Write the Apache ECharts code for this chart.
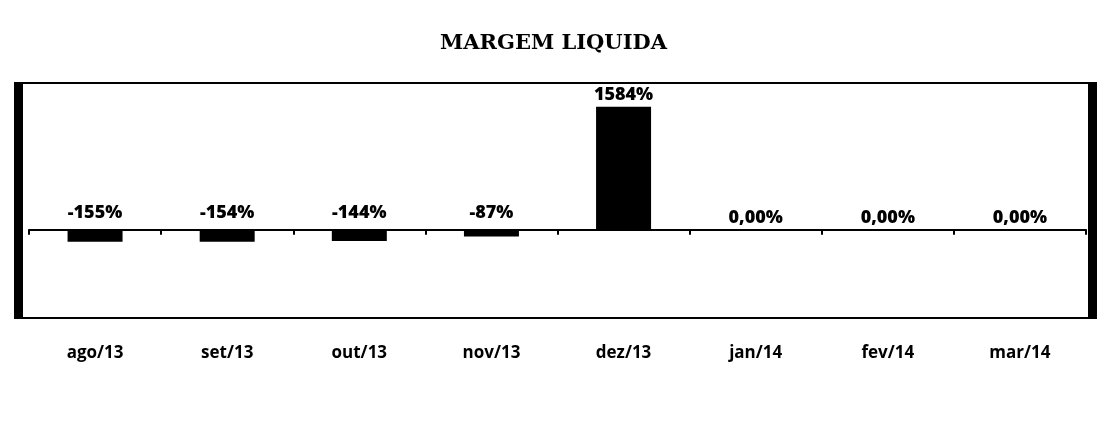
<!DOCTYPE html>
<html>
<head>
<meta charset="utf-8">
<script src="https://cdn.jsdelivr.net/npm/echarts@6/dist/echarts.min.js"></script>
<style>
  html, body { margin: 0; padding: 0; background: #fff; }
  #chart { width: 1107px; height: 447px; }
</style>
</head>
<body>
<div id="chart"></div>
<script>
const months = ['ago/13', 'set/13', 'out/13', 'nov/13', 'dez/13', 'jan/14', 'fev/14', 'mar/14']
const margem = [-155, -154, -144, -87, 1584, 0, 0, 0]
const labels = ['-155%', '-154%', '-144%', '-87%', '1584%', '0,00%', '0,00%', '0,00%']

const chart = echarts.init(document.getElementById('chart'))

const option = {
  animation: false,
  title: {
    text: 'MARGEM LIQUIDA',
    left: 'center',
    top: 28,
    textStyle: {
      fontFamily: 'DejaVu Serif',
      fontWeight: 'bold',
      fontSize: 21,
      color: '#000'
    }
  },
  grid: {
    left: 29,
    right: 21,
    top: 83,
    bottom: 129,
    containLabel: false
  },
  graphic: [
    {
      type: 'rect',
      shape: { x: 18, y: 83, width: 1075, height: 235 },
      style: { fill: 'none', stroke: '#000', lineWidth: 2 }
    },
    {
      type: 'rect',
      shape: { x: 14, y: 82, width: 9, height: 237 },
      style: { fill: '#000' }
    },
    {
      type: 'rect',
      shape: { x: 1088, y: 82, width: 9, height: 237 },
      style: { fill: '#000' }
    }
  ],
  xAxis: [
    {
      type: 'category',
      data: months,
      axisLine: { onZero: true, lineStyle: { color: '#000', width: 2 } },
      axisTick: { show: true, length: 5, lineStyle: { color: '#000', width: 2 } },
      axisLabel: { show: false }
    },
    {
      type: 'category',
      data: months,
      position: 'bottom',
      axisLine: { show: false, onZero: false },
      axisTick: { show: false },
      axisLabel: {
        margin: 27,
        color: '#000',
        fontFamily: 'Open Sans',
        fontWeight: 'bold',
        fontSize: 17
      }
    }
  ],
  yAxis: {
    type: 'value',
    min: -1135,
    max: 1890,
    show: false,
    splitLine: { show: false }
  },
  series: [
    {
      type: 'bar',
      xAxisIndex: 0,
      data: margem.map((v, i) => ({
        value: v,
        label: {
          show: true,
          position: v < 0 ? 'insideTop' : 'top',
          offset: v < 0 ? [0, -31] : [0, 2],
          formatter: labels[i],
          color: '#000',
          fontFamily: 'Open Sans',
          fontWeight: 800,
          fontSize: 18,
          letterSpacing: -0.5
        }
      })),
      barWidth: 55,
      itemStyle: { color: '#000' }
    }
  ]
}

chart.setOption(option)
</script>
</body>
</html>
